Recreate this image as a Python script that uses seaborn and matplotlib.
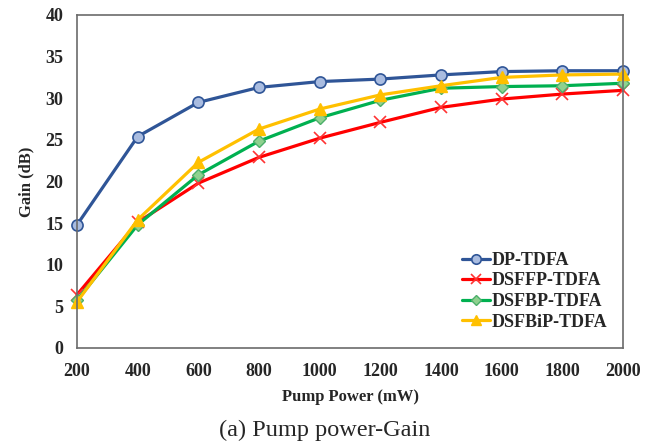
import matplotlib
matplotlib.use("Agg")
import matplotlib.pyplot as plt
import seaborn as sns
import pandas as pd

pump_power = [200, 400, 600, 800, 1000, 1200, 1400, 1600, 1800, 2000]
gain_dp = [14.8, 25.4, 29.5, 31.3, 32.0, 32.3, 32.8, 33.2, 33.3, 33.3]
gain_dsffp = [6.4, 15.1, 19.8, 22.9, 25.2, 27.1, 28.9, 29.9, 30.5, 30.95]
gain_dsfbp = [5.75, 14.8, 20.8, 24.85, 27.65, 29.75, 31.2, 31.4, 31.5, 31.8]
gain_dsfbip = [5.55, 15.4, 22.3, 26.3, 28.7, 30.4, 31.5, 32.5, 32.8, 32.9]
series_names = ["DP-TDFA", "DSFFP-TDFA", "DSFBP-TDFA", "DSFBiP-TDFA"]
x_ticks = [200, 400, 600, 800, 1000, 1200, 1400, 1600, 1800, 2000]
y_ticks = [0, 5, 10, 15, 20, 25, 30, 35, 40]

sns.set_theme(style="white")
plt.rcParams["font.family"] = ["Liberation Serif", "DejaVu Serif"]

df = pd.DataFrame({
    "power": pump_power * 4,
    "gain": gain_dp + gain_dsffp + gain_dsfbp + gain_dsfbip,
    "series": sum([[n] * len(pump_power) for n in series_names], []),
})

styles = {
    "DP-TDFA": dict(color="#2F5597", marker="o", mfc="#A9BCE0", mec="#2F5597", ms=8, mew=1.2),
    "DSFFP-TDFA": dict(color="#FF0000", marker="x", mfc="none", mec="#FF3333", ms=8, mew=1.2),
    "DSFBP-TDFA": dict(color="#00B050", marker="D", mfc="#8FD18F", mec="#4CAF6A", ms=6, mew=1.0),
    "DSFBiP-TDFA": dict(color="#FFC000", marker="^", mfc="#FFC000", mec="#FFC000", ms=8, mew=1.0),
}

fig = plt.figure(figsize=(6.53, 4.47), dpi=100)
ax = fig.add_axes([0.118, 0.2215, 0.836, 0.745])

for name in series_names:
    st = styles[name]
    sub = df[df["series"] == name]
    sns.lineplot(data=sub, x="power", y="gain", ax=ax, color=st["color"],
                 linewidth=2.3, marker=st["marker"], markersize=st["ms"],
                 markerfacecolor=st["mfc"], markeredgecolor=st["mec"],
                 markeredgewidth=st["mew"], label=name, clip_on=False)

ax.set_xlim(200, 2000)
ax.set_ylim(0, 40)
ax.set_xticks(x_ticks)
ax.set_yticks(y_ticks)
ax.tick_params(axis="both", direction="in", length=4, width=1, color="#595959",
               labelsize=13)
ax.tick_params(axis="x", pad=11)
ax.tick_params(axis="y", pad=10)
for lab in ax.get_xticklabels() + ax.get_yticklabels():
    lab.set_fontweight("bold")

for sp in ax.spines.values():
    sp.set_color("#6b6b6b")
    sp.set_linewidth(1.2)

ax.set_xlabel("Pump Power (mW)", fontsize=12, fontweight="bold", labelpad=6)
ax.set_ylabel("Gain (dB)", fontsize=12, fontweight="bold", labelpad=8)

leg = ax.legend(loc="lower left", bbox_to_anchor=(0.705, 0.052), frameon=False,
                prop={"weight": "bold", "size": 13}, handlelength=1.55,
                handletextpad=0.1, labelspacing=0.2, borderpad=0, borderaxespad=0,
                markerscale=0.85)

fig.text(0.497, 0.038, "(a) Pump power-Gain", ha="center", va="center", fontsize=17.5)

fig.savefig("out.png", dpi=100)
